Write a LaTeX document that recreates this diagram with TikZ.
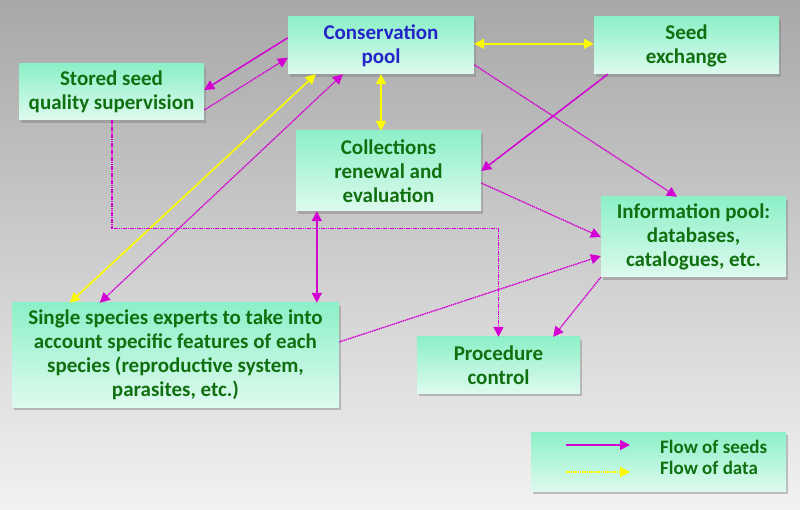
\documentclass[tikz,border=0pt]{standalone}
\usepackage{fontspec}
\setmainfont{Carlito}[BoldFont={Carlito Bold}]
\usepackage{tikz}
\usetikzlibrary{arrows.meta,shadows}
\definecolor{bgtop}{RGB}{168,168,168}
\definecolor{bgbot}{RGB}{242,242,242}
\definecolor{boxtop}{RGB}{140,240,200}
\definecolor{boxbot}{RGB}{222,250,238}
\definecolor{txtgreen}{RGB}{16,112,16}
\definecolor{txtblue}{RGB}{36,36,200}
\definecolor{seedcol}{RGB}{210,0,210}
\definecolor{datacol}{RGB}{250,250,0}

\begin{document}
\begin{tikzpicture}[x=1pt,y=-1pt,
  box/.style={inner sep=0pt,align=center,text=txtgreen,
              top color=boxtop,bottom color=boxbot,
              drop shadow={shadow xshift=2pt,shadow yshift=-3pt,opacity=0.45},
              font=\fontsize{21}{24}\selectfont\bfseries},
  seed/.style={draw=seedcol,line width=1.5pt,-{Triangle[length=10pt,width=10pt]}},
  seeddot/.style={draw=seedcol,line width=1.3pt,dash pattern=on 1.6pt off 0.7pt,
                  -{Triangle[length=10pt,width=10pt]}},
  data/.style={draw=datacol,line width=1.7pt,
               {Triangle[length=10pt,width=10pt]}-{Triangle[length=10pt,width=10pt]}},
  legtext/.style={anchor=west,text=txtgreen,inner sep=0pt,
                  font=\fontsize{19}{21}\selectfont\bfseries}]
  \shade[top color=bgtop,bottom color=bgbot] (0,0) rectangle (800,510);

  \node[box,minimum width=186pt,minimum height=57pt,text=txtblue] (cons)   at (381,45.5)  {Conservation\\pool};
  \node[box,minimum width=185pt,minimum height=57pt]  (seedx)  at (686.5,45.5) {Seed\\exchange};
  \node[box,minimum width=185pt,minimum height=56pt]  (stored) at (111.5,92)   {Stored seed\\quality supervision};
  \node[box,minimum width=185pt,minimum height=80pt]  (coll)   at (388.5,171)  {Collections\\renewal and\\evaluation};
  \node[box,minimum width=185pt,minimum height=80pt]  (info)   at (693.5,237)  {Information pool:\\databases,\\catalogues, etc.};
  \node[box,minimum width=327pt,minimum height=104pt] (single) at (175.5,355)  {Single species experts to take into\\account specific features of each\\species (reproductive system,\\parasites, etc.)};
  \node[box,minimum width=163pt,minimum height=56pt]  (proc)   at (498.5,365)  {Procedure\\control};
  \node[box,minimum width=255pt,minimum height=59pt]  (legend) at (658.5,461.5) {};

  \draw[seed] ([yshift=-21pt]cons.north west) -- ([yshift=2pt]stored.east);
  \draw[seeddot] ([yshift=-18pt]stored.east) -- ([yshift=-41pt]cons.north west);
  \draw[data] ([xshift=28pt]cons.south west) -- ([xshift=58pt]single.north west);
  \draw[seeddot,{Triangle[length=10pt,width=10pt]}-{Triangle[length=10pt,width=10pt]}]
    ([xshift=55pt]cons.south west) -- ([xshift=88pt]single.north west);
  \draw[data] (cons.south) -- (cons.south |- coll.north);
  \draw[data] ([yshift=-27pt]cons.north east) -- ([yshift=-27pt]seedx.north west);
  \draw[seeddot] ([yshift=-48pt]cons.north east) -- ([xshift=-16.5pt]info.north);
  \draw[seed] ([xshift=14pt]seedx.south west) -- (coll.east);
  \draw[seeddot] ([yshift=-12pt]coll.east) -- (info.west);
  \draw[seeddot,line width=1.5pt] ([xshift=0.5pt]stored.south) -- ++(0,108.5) -| (proc.north);
  \coordinate (cv) at ([xshift=21pt]coll.south west);
  \draw[seed,{Triangle[length=10pt,width=10pt]}-{Triangle[length=10pt,width=10pt]}]
    (cv) -- (cv |- single.north);
  \draw[seeddot] ([yshift=13pt]single.east) -- ([yshift=-19pt]info.west);
  \draw[seeddot] (info.south west) -- ([xshift=-27pt]proc.north east);

  \coordinate (s1) at (566,445);
  \coordinate (s2) at (630,445);
  \coordinate (d1) at (566,472);
  \coordinate (d2) at (630,472);
  \draw[seed] (s1) -- (s2);
  \draw[draw=datacol,line width=1.7pt,dash pattern=on 1.6pt off 0.7pt,
        -{Triangle[length=10pt,width=10pt]}] (d1) -- (d2);
  \node[legtext] (lseed) at (660,447) {Flow of seeds};
  \node[legtext] (ldata) at (660,468) {Flow of data};
\end{tikzpicture}
\end{document}
